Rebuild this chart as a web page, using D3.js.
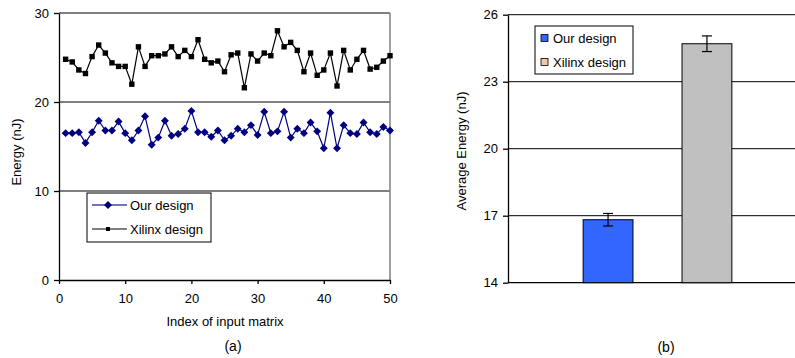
<!DOCTYPE html>
<html>
<head>
<meta charset="utf-8">
<script src="https://cdn.jsdelivr.net/npm/d3@7"></script>
<style>
  html, body { margin: 0; padding: 0; background: #fff; }
  svg { display: block; font-family: "Liberation Sans", Arial, sans-serif; }
</style>
</head>
<body>
<svg id="chart" width="795" height="358"></svg>
<script>
// (a) energy per input matrix, index 1..50
const ourDesign = [
  16.5, 16.5, 16.6, 15.4, 16.6, 17.9, 16.8, 16.8, 17.8, 16.5,
  15.7, 16.8, 18.4, 15.2, 16.0, 17.9, 16.2, 16.4, 17.0, 19.0,
  16.6, 16.6, 16.1, 16.8, 15.7, 16.2, 17.0, 16.6, 17.4, 16.3,
  18.9, 16.5, 16.7, 18.9, 16.0, 17.0, 16.5, 17.7, 16.7, 14.8,
  18.8, 14.8, 17.4, 16.5, 16.4, 17.7, 16.6, 16.4, 17.2, 16.8
];
const xilinxDesign = [
  24.8, 24.5, 23.6, 23.2, 25.1, 26.4, 25.5, 24.4, 24.0, 24.0,
  22.0, 26.2, 24.0, 25.2, 25.2, 25.4, 26.2, 25.1, 25.8, 25.1,
  27.0, 24.8, 24.4, 24.6, 23.4, 25.3, 25.5, 21.6, 25.4, 24.6,
  25.5, 25.2, 28.0, 26.2, 26.7, 25.8, 23.4, 25.5, 23.0, 23.6,
  25.5, 21.8, 25.8, 23.6, 24.8, 25.8, 23.7, 23.9, 24.6, 25.2
];
const xTicksA = [0, 10, 20, 30, 40, 50];
const yTicksA = [0, 10, 20, 30];

// (b) average energy with error bars
const designs = ['Our design', 'Xilinx design'];
const avgEnergy = [16.82, 24.70];
const avgError = [0.28, 0.35];
const yTicksB = [14, 17, 20, 23, 26];

const svg = d3.select('#chart');
const font = 12;

// ---------- (a) ----------
const ga = svg.append('g');
const xa = d3.scaleLinear().domain([0, 50]).range([59, 390]);
const ya = d3.scaleLinear().domain([0, 30]).range([280, 13]);

ga.selectAll('line.grid')
  .data(yTicksA.filter(d => d > 0))
  .join('line')
  .attr('x1', xa(0)).attr('x2', xa(50))
  .attr('y1', d => ya(d)).attr('y2', d => ya(d))
  .attr('stroke', '#000').attr('stroke-width', 1);

ga.append('line')
  .attr('x1', xa(50)).attr('x2', xa(50))
  .attr('y1', ya(30)).attr('y2', ya(0))
  .attr('stroke', '#808080').attr('stroke-width', 1.5);

const axA_y = ga.append('g')
  .attr('transform', `translate(${xa(0)},0)`)
  .call(d3.axisLeft(ya).tickValues(yTicksA).tickSize(5).tickPadding(5).tickSizeOuter(0));
const axA_x = ga.append('g')
  .attr('transform', `translate(0,${ya(0)})`)
  .call(d3.axisBottom(xa).tickValues(xTicksA).tickSize(4).tickPadding(10).tickSizeOuter(0));
[axA_y, axA_x].forEach(ax => {
  ax.selectAll('path, line').attr('stroke', '#000').attr('stroke-width', 1.3);
  ax.selectAll('text').attr('font-size', 13).attr('fill', '#000')
    .attr('font-family', '"Liberation Sans", Arial, sans-serif');
});

const lineA = d3.line().x((d, i) => xa(i + 1)).y(d => ya(d));

ga.append('path').datum(xilinxDesign)
  .attr('d', lineA).attr('fill', 'none').attr('stroke', '#000').attr('stroke-width', 1.2);
ga.selectAll('rect.xil').data(xilinxDesign).join('rect')
  .attr('x', (d, i) => xa(i + 1) - 2.7).attr('y', d => ya(d) - 2.7)
  .attr('width', 5.4).attr('height', 5.4).attr('fill', '#000');

const diamond = d3.symbol().type(d3.symbolDiamond2).size(40);
ga.append('path').datum(ourDesign)
  .attr('d', lineA).attr('fill', 'none').attr('stroke', '#000080').attr('stroke-width', 1.2);
ga.selectAll('path.our').data(ourDesign).join('path')
  .attr('class', 'our')
  .attr('d', diamond)
  .attr('transform', (d, i) => `translate(${xa(i + 1)},${ya(d)})`)
  .attr('fill', '#000080');

// legend (a)
const la = ga.append('g');
la.append('rect').attr('x', 87).attr('y', 193).attr('width', 124).attr('height', 49)
  .attr('fill', '#fff').attr('stroke', '#000').attr('stroke-width', 1);
la.append('line').attr('x1', 92).attr('x2', 127).attr('y1', 205).attr('y2', 205)
  .attr('stroke', '#4444aa').attr('stroke-width', 1.5);
la.append('path').attr('d', diamond).attr('transform', 'translate(108,205)').attr('fill', '#000080');
la.append('line').attr('x1', 92).attr('x2', 127).attr('y1', 229).attr('y2', 229)
  .attr('stroke', '#000').attr('stroke-width', 1.2);
la.append('rect').attr('x', 106).attr('y', 227).attr('width', 4).attr('height', 4).attr('fill', '#000');
la.append('text').attr('x', 130).attr('y', 209.5).attr('font-size', 13).text('Our design');
la.append('text').attr('x', 130).attr('y', 233.5).attr('font-size', 13).text('Xilinx design');

ga.append('text')
  .attr('transform', `translate(21,${152}) rotate(-90)`)
  .attr('text-anchor', 'middle').attr('font-size', 13).text('Energy (nJ)');
ga.append('text').attr('x', 225).attr('y', 326).attr('text-anchor', 'middle')
  .attr('font-size', 13).text('Index of input matrix');
ga.append('text').attr('x', 233).attr('y', 351).attr('text-anchor', 'middle')
  .attr('font-size', 14).text('(a)');

// ---------- (b) ----------
const gb = svg.append('g');
const xb = d3.scaleBand().domain(designs).range([508, 807])
  .paddingInner(0.496).paddingOuter(0.76);
const yb = d3.scaleLinear().domain([14, 26]).range([282.7, 14.7]);

gb.selectAll('line.grid')
  .data(yTicksB)
  .join('line')
  .attr('x1', 508).attr('x2', 795)
  .attr('y1', d => yb(d)).attr('y2', d => yb(d))
  .attr('stroke', '#000').attr('stroke-width', d => d === 14 ? 1.3 : 1);

const axB = gb.append('g')
  .attr('transform', 'translate(508,0)')
  .call(d3.axisLeft(yb).tickValues(yTicksB).tickSize(5).tickPadding(5).tickSizeOuter(0));
axB.selectAll('path, line').attr('stroke', '#000').attr('stroke-width', 1.3);
axB.selectAll('text').attr('font-size', 13).attr('fill', '#000')
  .attr('font-family', '"Liberation Sans", Arial, sans-serif');

const barColors = ['#3366ff', '#c0c0c0'];
gb.selectAll('rect.bar').data(avgEnergy).join('rect')
  .attr('x', (d, i) => xb(designs[i]))
  .attr('y', d => yb(d))
  .attr('width', xb.bandwidth())
  .attr('height', d => yb(14) - yb(d))
  .attr('fill', (d, i) => barColors[i])
  .attr('stroke', '#000').attr('stroke-width', 1);

const errG = gb.selectAll('g.err').data(avgEnergy).join('g');
errG.append('line')
  .attr('x1', (d, i) => xb(designs[i]) + xb.bandwidth() / 2)
  .attr('x2', (d, i) => xb(designs[i]) + xb.bandwidth() / 2)
  .attr('y1', (d, i) => yb(d + avgError[i]))
  .attr('y2', (d, i) => yb(d - avgError[i]))
  .attr('stroke', '#000').attr('stroke-width', 1.2);
[1, -1].forEach(s => {
  errG.append('line')
    .attr('x1', (d, i) => xb(designs[i]) + xb.bandwidth() / 2 - 5)
    .attr('x2', (d, i) => xb(designs[i]) + xb.bandwidth() / 2 + 5)
    .attr('y1', (d, i) => yb(d + s * avgError[i]))
    .attr('y2', (d, i) => yb(d + s * avgError[i]))
    .attr('stroke', '#000').attr('stroke-width', 1.2);
});

// legend (b)
const lb = gb.append('g');
lb.append('rect').attr('x', 535).attr('y', 26).attr('width', 98).attr('height', 48)
  .attr('fill', '#fff').attr('stroke', '#000').attr('stroke-width', 1);
const legendSwatch = ['#3366ff', '#eec8a8'];
designs.forEach((name, i) => {
  lb.append('rect').attr('x', 541).attr('y', 34.5 + i * 24).attr('width', 7).attr('height', 7)
    .attr('fill', legendSwatch[i]).attr('stroke', '#000').attr('stroke-width', 0.8);
  lb.append('text').attr('x', 553).attr('y', 42.5 + i * 24).attr('font-size', 13).text(name);
});

gb.append('text')
  .attr('transform', 'translate(466,151) rotate(-90)')
  .attr('text-anchor', 'middle').attr('font-size', 13).text('Average Energy (nJ)');
gb.append('text').attr('x', 666).attr('y', 352).attr('text-anchor', 'middle')
  .attr('font-size', 14).text('(b)');
</script>
</body>
</html>
